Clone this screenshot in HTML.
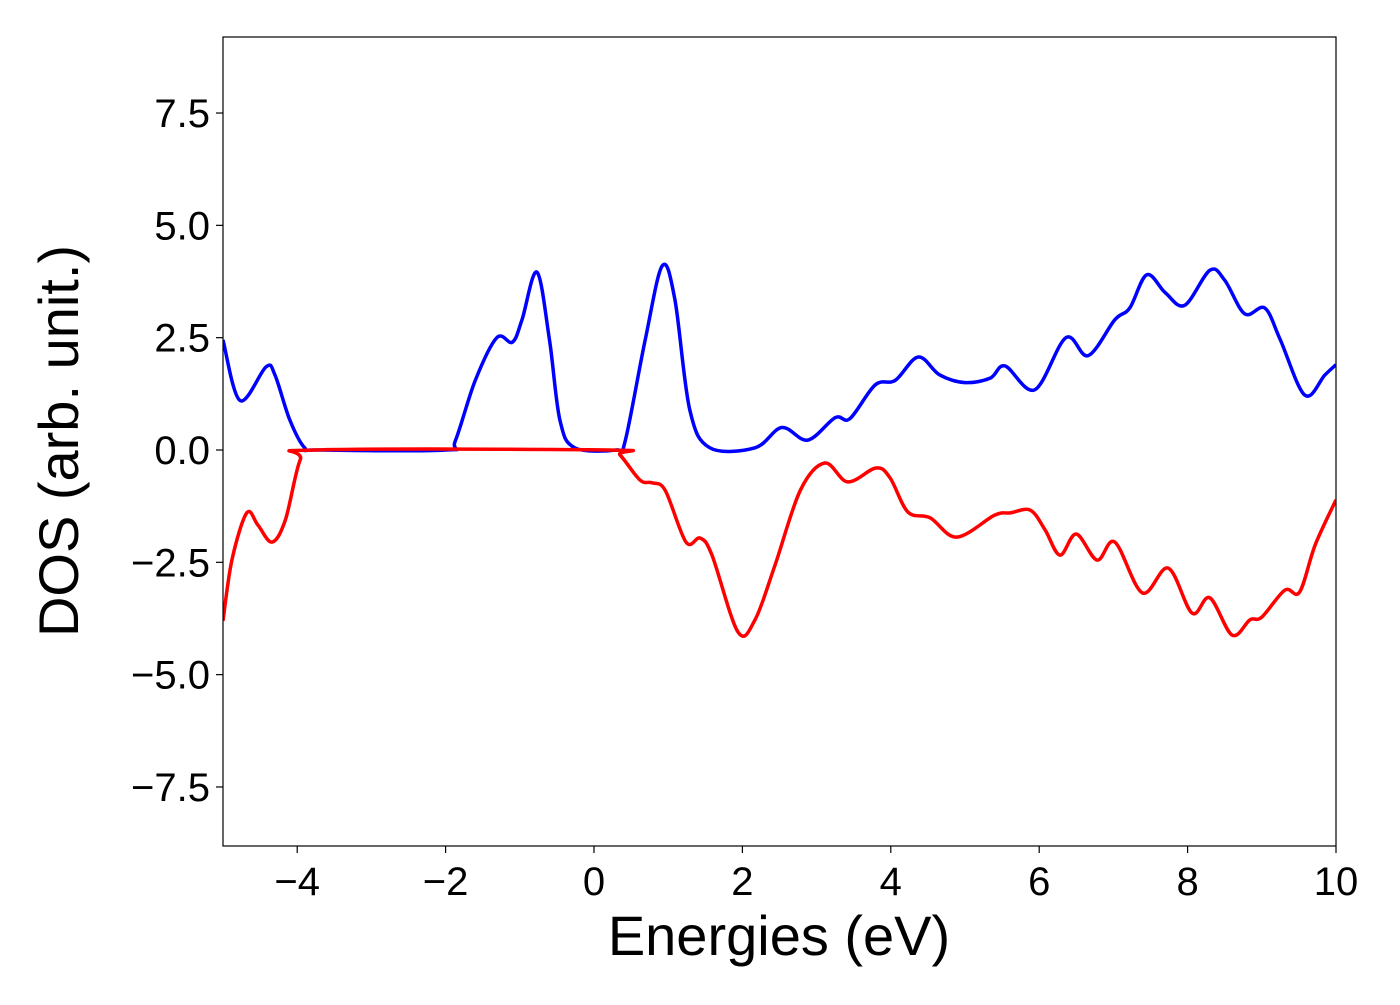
<!DOCTYPE html>
<html><head><meta charset="utf-8"><style>
body{margin:0;background:#fff;}
svg text{font-family:"Liberation Sans","DejaVu Sans",sans-serif;fill:#000;}
</style></head><body>
<svg id="chart" width="1400" height="1000" xmlns="http://www.w3.org/2000/svg">
<defs><clipPath id="clip"><rect x="223" y="37" width="1113" height="809"/></clipPath></defs>
<g id="series" clip-path="url(#clip)"></g>
<rect x="223" y="37" width="1113" height="809" fill="none" stroke="#000" stroke-width="1.2"/>
<g id="xticks"></g>
<g id="yticks"></g>
<text x="779" y="955" font-size="56" text-anchor="middle">Energies (eV)</text>
<text transform="translate(78,441) rotate(-90)" font-size="56" text-anchor="middle">DOS (arb. unit.)</text>
</svg>
<script>
const xTicks=[-4,-2,0,2,4,6,8,10];
const yTicks=[-7.5,-5,-2.5,0,2.5,5,7.5];
const upE=[-5,-4.77,-4.42,-4.3,-4.1,-3.9,-3.7,-2,-1.87,-1.6,-1.31,-1.1,-0.97,-0.77,-0.6,-0.46,-0.26,0.3,0.42,0.69,0.92,1.09,1.29,1.56,2.17,2.53,2.88,3.25,3.45,3.79,4.06,4.37,4.66,5.0,5.34,5.54,5.94,6.36,6.66,7.02,7.22,7.45,7.7,7.96,8.3,8.5,8.77,9.04,9.25,9.58,9.85,10];
const upDos=[2.45,1.1,1.85,1.67,0.67,0.05,0,0,0.2,1.55,2.5,2.4,2.9,3.96,2.45,0.67,0.05,0,0.2,2.45,4.1,3.35,0.9,0.05,0.05,0.5,0.22,0.72,0.7,1.45,1.55,2.07,1.67,1.5,1.6,1.87,1.34,2.5,2.1,2.9,3.16,3.9,3.5,3.22,4.0,3.78,3.03,3.16,2.45,1.22,1.67,1.9];
const downE=[-5,-4.88,-4.68,-4.53,-4.34,-4.16,-3.96,-3.76,0.2,0.35,0.62,0.78,0.96,1.24,1.43,1.59,1.94,2.17,2.44,2.78,3.11,3.42,3.8,3.99,4.23,4.53,4.89,5.4,5.61,5.88,6.08,6.28,6.5,6.78,7.02,7.39,7.74,8.06,8.3,8.6,8.84,9.0,9.31,9.51,9.72,10];
const downDos=[-3.8,-2.45,-1.4,-1.67,-2.05,-1.56,-0.22,0,0,-0.11,-0.67,-0.73,-0.9,-2.05,-1.96,-2.34,-4.05,-3.78,-2.56,-0.9,-0.29,-0.71,-0.4,-0.62,-1.38,-1.51,-1.94,-1.45,-1.4,-1.34,-1.78,-2.34,-1.87,-2.45,-2.05,-3.18,-2.63,-3.63,-3.29,-4.12,-3.78,-3.72,-3.12,-3.16,-2.11,-1.11];
const X=v=>223+(v+5)*(1113/15);
const Y=v=>450-v*44.93;
const NS="http://www.w3.org/2000/svg";
function smooth(xs,ys){
  const p=xs.map((x,i)=>[X(x),Y(ys[i])]);
  let d="M"+p[0][0]+","+p[0][1];
  for(let i=0;i<p.length-1;i++){
    const p0=p[Math.max(0,i-1)],p1=p[i],p2=p[i+1],p3=p[Math.min(p.length-1,i+2)];
    const c1=[p1[0]+(p2[0]-p0[0])/6,p1[1]+(p2[1]-p0[1])/6];
    const c2=[p2[0]-(p3[0]-p1[0])/6,p2[1]-(p3[1]-p1[1])/6];
    d+=`C${c1[0]},${c1[1]} ${c2[0]},${c2[1]} ${p2[0]},${p2[1]}`;
  }
  return d;
}
const g=document.getElementById("series");
const up=document.createElementNS(NS,"path");


up.setAttribute("d",smooth(upE,upDos));up.setAttribute("fill","none");up.setAttribute("stroke","#0000ff");up.setAttribute("stroke-width","3.5");
g.appendChild(up);
const dn=document.createElementNS(NS,"path");


dn.setAttribute("d",smooth(downE,downDos));dn.setAttribute("fill","none");dn.setAttribute("stroke","#ff0000");dn.setAttribute("stroke-width","3.5");
g.appendChild(dn);
const xg=document.getElementById("xticks");
xTicks.forEach(t=>{
  const l=document.createElementNS(NS,"line");
  
  
  l.setAttribute("x1",X(t));l.setAttribute("x2",X(t));l.setAttribute("y1",846);l.setAttribute("y2",853);l.setAttribute("stroke","#000");l.setAttribute("stroke-width","1.2");
  xg.appendChild(l);
  const tx=document.createElementNS(NS,"text");
  
  
  tx.setAttribute("x",X(t));tx.setAttribute("y",895);tx.setAttribute("font-size","40");tx.setAttribute("text-anchor","middle");
  tx.textContent=(t<0?"\u2212":"")+Math.abs(t);
  xg.appendChild(tx);
});
const yg=document.getElementById("yticks");
yTicks.forEach(t=>{
  const l=document.createElementNS(NS,"line");
  
  
  l.setAttribute("x1",216);l.setAttribute("x2",223);l.setAttribute("y1",Y(t));l.setAttribute("y2",Y(t));l.setAttribute("stroke","#000");l.setAttribute("stroke-width","1.2");
  yg.appendChild(l);
  const tx=document.createElementNS(NS,"text");
  
  
  tx.setAttribute("x",210);tx.setAttribute("y",Y(t)+14);tx.setAttribute("font-size","40");tx.setAttribute("text-anchor","end");
  tx.textContent=(t<0?"\u2212":"")+Math.abs(t).toFixed(1);
  yg.appendChild(tx);
});
</script>
</body></html>
